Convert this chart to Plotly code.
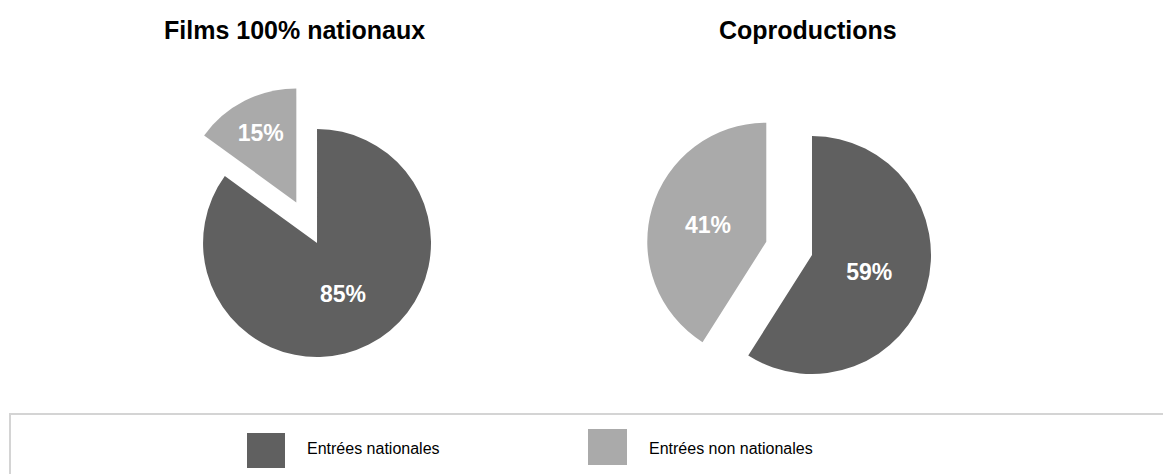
import plotly.graph_objects as go

# data
labels = ["Entrées nationales", "Entrées non nationales"]
nationaux = [85, 15]
coproductions = [59, 41]
titles = ["Films 100% nationaux", "Coproductions"]
colors = ["#606060", "#aaaaaa"]

W, H = 1163, 474
FONT = "Liberation Sans, Arial, sans-serif"

fig = go.Figure()

pie_style = dict(
    labels=labels,
    sort=False,
    direction="clockwise",
    rotation=0,
    pull=[0, 0.4],
    marker=dict(colors=colors, line=dict(width=0)),
    texttemplate="%{percent:.0%}",
    textposition="inside",
    insidetextorientation="horizontal",
    textfont=dict(family=FONT, size=23, color="white", weight="bold"),
    hoverinfo="skip",
    showlegend=False,
)

fig.add_trace(go.Pie(values=nationaux,
                     domain=dict(x=[0.1354, 0.4098], y=[0.1506, 0.8240]),
                     **pie_style))
fig.add_trace(go.Pie(values=coproductions,
                     domain=dict(x=[0.5549, 0.8415], y=[0.1105, 0.8135]),
                     **pie_style))

# titles
for t, xc in zip(titles, [294, 808]):
    fig.add_annotation(text=t, x=xc / W, y=(H - 30) / H, xref="paper", yref="paper",
                       showarrow=False, xanchor="center", yanchor="middle",
                       font=dict(family=FONT, size=25, color="black", weight="bold"))

# legend box drawn by hand (large square swatches)
fig.add_shape(type="rect", xref="paper", yref="paper",
              x0=10 / W, x1=1.02, y0=-0.05, y1=(H - 414) / H,
              line=dict(color="#d4d4d4", width=2), fillcolor="white", layer="below")

swatches = [(247, 285, 433, 468), (588, 627, 429, 465)]
text_x = [305, 647]
for lab, col, (x0, x1, y0, y1), tx in zip(labels, colors, swatches, text_x):
    fig.add_shape(type="rect", xref="paper", yref="paper",
                  x0=x0 / W, x1=x1 / W, y0=(H - y1) / H, y1=(H - y0) / H,
                  line=dict(width=0), fillcolor=col)
    fig.add_annotation(text=lab, x=tx / W, y=(H - 448) / H, xref="paper", yref="paper",
                       showarrow=False, xanchor="left", yanchor="middle",
                       font=dict(family=FONT, size=16, color="black"))

fig.update_layout(
    width=W, height=H,
    margin=dict(l=0, r=0, t=0, b=0),
    paper_bgcolor="white",
    plot_bgcolor="white",
)

# remove default page margin so the figure sits at the window origin
fig.write_html("out.html", config={"displayModeBar": False},
               post_script="document.body.style.margin='0';")
